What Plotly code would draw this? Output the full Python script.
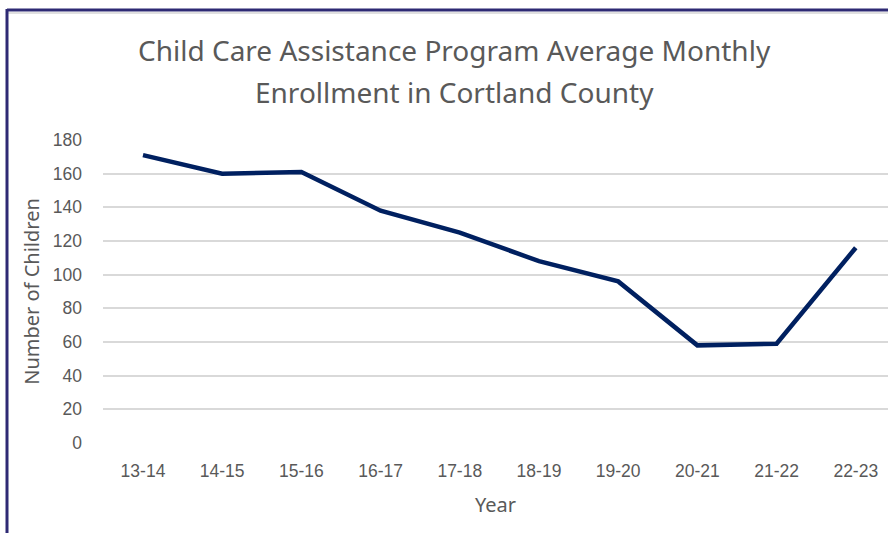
import plotly.graph_objects as go

years = ["13-14", "14-15", "15-16", "16-17", "17-18", "18-19", "19-20", "20-21", "21-22", "22-23"]
enrollment = [171, 160, 161, 138, 125, 108, 96, 58, 59, 116]
y_ticks = [0, 20, 40, 60, 80, 100, 120, 140, 160, 180]
title_lines = ["Child Care Assistance Program Average Monthly", "Enrollment in Cortland County"]

W, H = 888, 533
L, R, T, B = 103, 0, 140, 90

fig = go.Figure()
fig.add_trace(go.Scatter(
    x=years, y=enrollment, mode="lines",
    line=dict(color="#002060", width=4.5),
    hoverinfo="x+y",
))

grey = "#595959"
tick_font = dict(size=17.5, color=grey, family="Liberation Sans, Arial, sans-serif")
title_font = dict(size=20, color=grey, family="Noto Sans, sans-serif")
fig.update_layout(
    width=W, height=H,
    margin=dict(l=L, r=R, t=T, b=B, pad=0),
    paper_bgcolor="white", plot_bgcolor="white",
    showlegend=False,
    font=dict(family="Liberation Sans, Arial, sans-serif", color=grey),
    xaxis=dict(
        type="category", range=[-0.505, 9.407],
        showgrid=False, zeroline=False, showline=False,
        tickfont=tick_font,
        ticks="", ticklabelstandoff=15,
        title=dict(text="Year", font=title_font, standoff=18),
    ),
    yaxis=dict(
        range=[0, 180], tickvals=y_ticks,
        showgrid=True, gridcolor="#d9d9d9", gridwidth=1.5,
        zeroline=False, showline=False,
        tickfont=tick_font,
        ticks="", ticklabelstandoff=20,
        title=dict(text="Number of Children", font=title_font, standoff=7),
    ),
)

for txt, yc in zip(title_lines, [50, 92]):
    fig.add_annotation(
        text=txt, xref="paper", yref="paper",
        x=(454 - L) / (W - L - R), y=(H - B - yc) / (H - T - B),
        xanchor="center", yanchor="middle", showarrow=False,
        font=dict(size=28, color=grey, family="Noto Sans, sans-serif"),
    )

def px_x(p):
    return (p - L) / (W - L - R)

def px_y(p):
    return (H - B - p) / (H - T - B)

fig.add_shape(type="line", xref="paper", yref="paper",
              x0=px_x(7), x1=px_x(W), y0=px_y(13), y1=px_y(13),
              line=dict(color="#e0e0e0", width=2))
fig.add_shape(type="line", xref="paper", yref="paper",
              x0=px_x(7), x1=px_x(W), y0=px_y(10), y1=px_y(10),
              line=dict(color="#2e2a74", width=3))
fig.add_shape(type="line", xref="paper", yref="paper",
              x0=px_x(7), x1=px_x(7), y0=px_y(9), y1=px_y(H),
              line=dict(color="#2e2a74", width=3))

fig.write_html("out.html", config={"displayModeBar": False},
               post_script="document.body.style.margin='0';document.body.style.overflow='hidden';")
